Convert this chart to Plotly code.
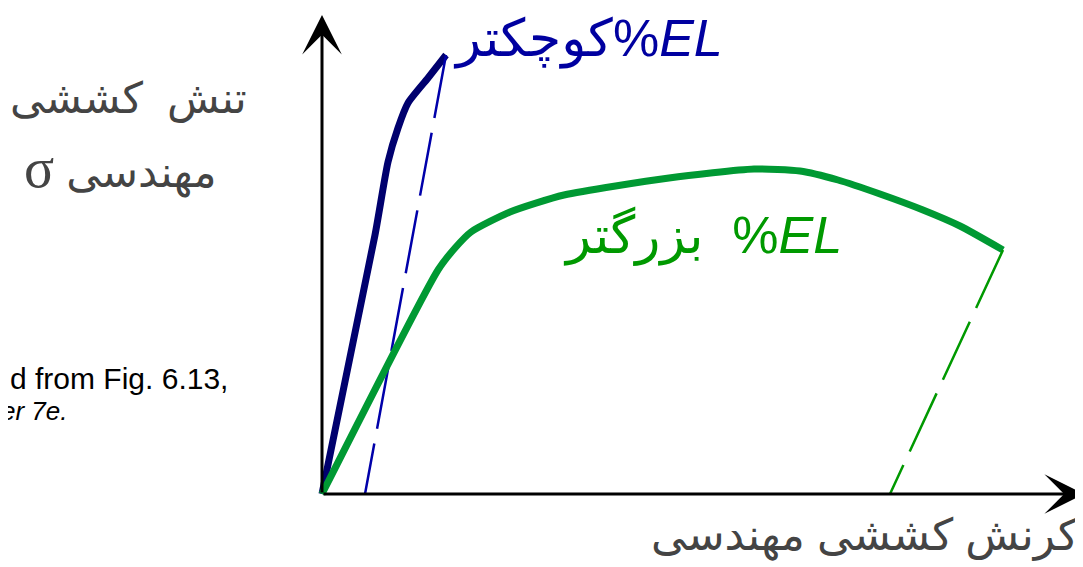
import plotly.graph_objects as go

# Data (strain, stress) in arbitrary units, origin at the axes corner
blue_strain = [0.0, 5.3, 6.6, 7.6, 8.6, 10.6, 12.4]
blue_stress = [0.0, 25.9, 33.2, 36.6, 39.1, 41.6, 43.9]
blue_unload_strain = [12.4, 4.3]
blue_unload_stress = [43.9, 0.0]

green_strain = [0.0, 11.6, 13.3, 14.9, 18.8, 24.2, 34.7, 43.2, 47.8, 51.6, 55.8, 60.1, 63.8, 68.1]
green_stress = [0.0, 22.4, 24.6, 26.2, 28.2, 29.9, 31.6, 32.5, 32.3, 31.4, 30.0, 28.4, 26.8, 24.4]
green_unload_strain = [68.1, 56.8]
green_unload_stress = [24.4, 0.0]

x_axis_end = 76.2
y_axis_end = 47.9

# page body has an 8px margin; ranges compensate for it
x_range = [-31.4, 76.9]
y_range = [-8.1, 48.6]

fig = go.Figure()

fig.add_trace(go.Scatter(x=blue_strain, y=blue_stress, mode="lines",
                         line=dict(color="#00006e", width=7, shape="spline", smoothing=0.6),
                         hoverinfo="skip"))
fig.add_trace(go.Scatter(x=blue_unload_strain, y=blue_unload_stress, mode="lines",
                         line=dict(color="#0000aa", width=2.5, dash="64px,15px"),
                         hoverinfo="skip"))
fig.add_trace(go.Scatter(x=green_strain, y=green_stress, mode="lines",
                         line=dict(color="#009933", width=7, shape="spline", smoothing=0.6),
                         hoverinfo="skip"))
fig.add_trace(go.Scatter(x=green_unload_strain, y=green_unload_stress, mode="lines",
                         line=dict(color="#009900", width=2.5, dash="64px,15px"),
                         hoverinfo="skip"))

# Axes with arrowheads
fig.add_annotation(x=0, y=y_axis_end, ax=0, ay=0, xref="x", yref="y", axref="x", ayref="y",
                   showarrow=True, arrowhead=3, arrowsize=2.2, arrowwidth=3, arrowcolor="black",
                   text="", standoff=0)
fig.add_annotation(x=x_axis_end, y=0, ax=0, ay=0, xref="x", yref="y", axref="x", ayref="y",
                   showarrow=True, arrowhead=3, arrowsize=2.2, arrowwidth=3, arrowcolor="black",
                   text="", standoff=0)

arabic_font = "Liberation Sans, DejaVu Sans, Arial, sans-serif"
grey = "#444444"

fig.add_annotation(x=-19.4, y=39.6, xref="x", yref="y", showarrow=False,
                   text="تنش  کششی", font=dict(family=arabic_font, size=43, color=grey))
fig.add_annotation(x=-20.2, y=32.6, xref="x", yref="y", showarrow=False,
                   text="<span style='font-family:Liberation Serif, serif;font-size:56px'>σ</span> مهندسی",
                   font=dict(family=arabic_font, size=43, color=grey))
fig.add_annotation(x=54.3, y=-4.1, xref="x", yref="y", showarrow=False,
                   text="کرنش کششی مهندسی", font=dict(family=arabic_font, size=44, color=grey))

fig.add_annotation(x=26.6, y=45.5, xref="x", yref="y", showarrow=False,
                   text="کوچکتر%<i>EL</i>", font=dict(family=arabic_font, size=52, color="#0000a0"))
fig.add_annotation(x=38.0, y=25.8, xref="x", yref="y", showarrow=False,
                   text="بزرگتر  %<i>EL</i>", font=dict(family=arabic_font, size=52, color="#009900"))

fig.add_annotation(x=-9.2, y=11.6, xref="x", yref="y", showarrow=False, xanchor="right",
                   text="d from Fig. 6.13,", font=dict(family=arabic_font, size=30, color="black"))
fig.add_annotation(x=-25.2, y=8.3, xref="x", yref="y", showarrow=False, xanchor="right",
                   text="<i>er 7e.</i>", font=dict(family=arabic_font, size=26, color="black"))

fig.update_xaxes(range=x_range, visible=False, fixedrange=True)
fig.update_yaxes(range=y_range, visible=False, fixedrange=True)
fig.update_layout(width=1083, height=567, margin=dict(l=0, r=0, t=0, b=0),
                  plot_bgcolor="white", paper_bgcolor="white", showlegend=False)

fig.write_html("out.html")
